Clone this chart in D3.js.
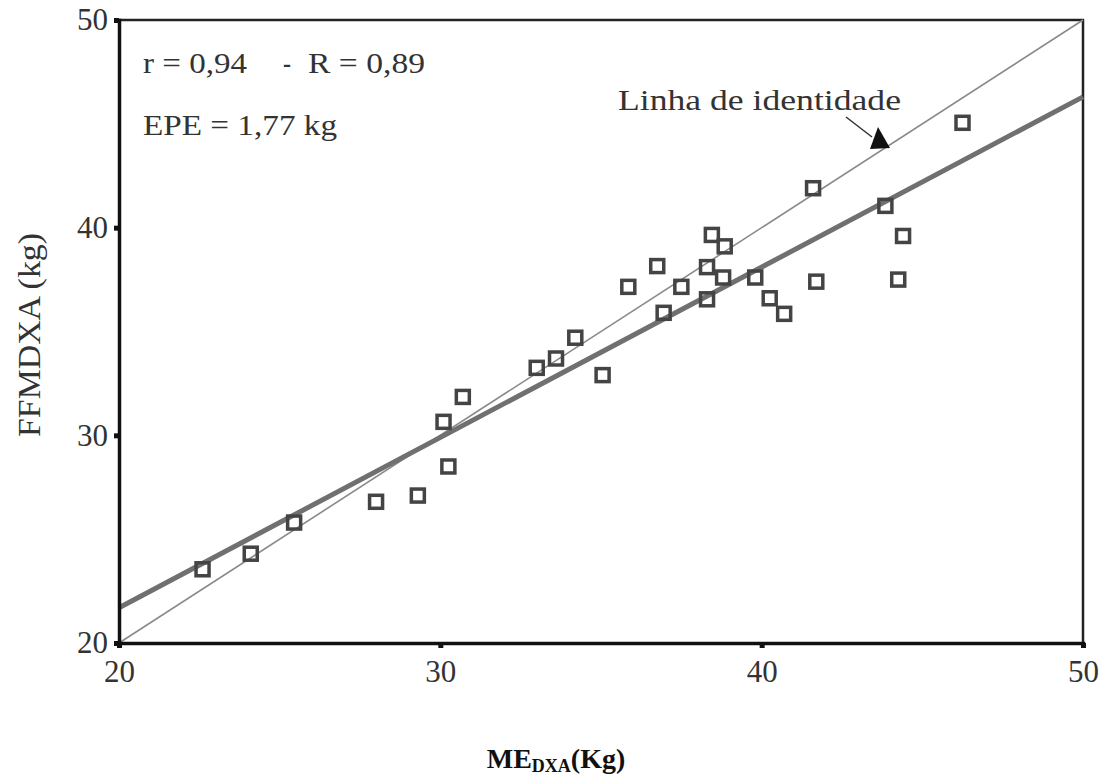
<!DOCTYPE html>
<html>
<head>
<meta charset="utf-8">
<script src="https://cdn.jsdelivr.net/npm/d3@7"></script>
<style>
  body { margin: 0; background: #fff; }
  svg { display: block; }
  .tick text { font-family: "Liberation Serif", "Times New Roman", Times, serif; fill: #333; }
</style>
</head>
<body>
<div id="chart"></div>
<script>
// data
var meDxa = [22.6, 24.1, 25.45, 28.0, 29.3, 30.25, 30.1, 30.7, 33.0, 33.6, 34.2, 35.05,
  35.85, 36.75, 36.95, 37.5, 38.3, 38.3, 38.45, 38.8, 38.85, 39.8, 40.25, 40.7,
  41.6, 41.7, 43.85, 44.25, 44.4, 46.25];
var ffmDxa = [23.55, 24.3, 25.8, 26.8, 27.1, 28.5, 30.65, 31.85, 33.25, 33.7, 34.7, 32.9,
  37.15, 38.15, 35.9, 37.15, 38.1, 36.55, 39.65, 37.6, 39.1, 37.6, 36.6, 35.85,
  41.9, 37.4, 41.05, 37.5, 39.6, 45.05];

var tickValues = [20, 30, 40, 50];
var identityX = [20, 50];
var identityY = [20, 50];
var regressionX = [20, 50];
var regressionY = [21.7, 46.3];

var width = 1111, height = 776;
var margin = {left: 119, top: 20, right: 28, bottom: 133};
var plotW = width - margin.left - margin.right;
var plotH = height - margin.top - margin.bottom;
var serif = '"Liberation Serif", "Times New Roman", Times, serif';

var svg = d3.select("#chart").append("svg")
  .attr("width", width)
  .attr("height", height);

var x = d3.scaleLinear().domain([20, 50]).range([margin.left, margin.left + plotW]);
var y = d3.scaleLinear().domain([20, 50]).range([margin.top + plotH, margin.top]);

// frame (top + right)
svg.append("path")
  .attr("d", `M${x(20)},${y(50)}H${x(50)}V${y(20)}`)
  .attr("fill", "none")
  .attr("stroke", "#222")
  .attr("stroke-width", 2.5);

// lines
var line = d3.line().x(d => x(d[0])).y(d => y(d[1]));

svg.append("path")
  .datum(identityX.map((v, i) => [v, identityY[i]]))
  .attr("d", line)
  .attr("fill", "none")
  .attr("stroke", "#8a8a8a")
  .attr("stroke-width", 1.6);

svg.append("path")
  .datum(regressionX.map((v, i) => [v, regressionY[i]]))
  .attr("d", line)
  .attr("fill", "none")
  .attr("stroke", "#707070")
  .attr("stroke-width", 5);

// points
var sq = 13;
svg.selectAll("rect.pt")
  .data(meDxa.map((v, i) => [v, ffmDxa[i]]))
  .enter()
  .append("rect")
  .attr("class", "pt")
  .attr("x", d => x(d[0]) - sq / 2)
  .attr("y", d => y(d[1]) - sq / 2)
  .attr("width", sq)
  .attr("height", sq)
  .attr("fill", "none")
  .attr("stroke", "#444")
  .attr("stroke-width", 3.5);

// axes
var xAxis = d3.axisBottom(x).tickValues(tickValues).tickSize(5).tickPadding(8).tickFormat(d3.format("d"));
var yAxis = d3.axisLeft(y).tickValues(tickValues).tickSize(5).tickPadding(6).tickFormat(d3.format("d"));

var gx = svg.append("g")
  .attr("transform", `translate(0, ${y(20)})`)
  .call(xAxis);
var gy = svg.append("g")
  .attr("transform", `translate(${x(20)}, 0)`)
  .call(yAxis);

[gx, gy].forEach(g => {
  g.attr("font-family", serif);
  g.select(".domain").attr("stroke", "#111").attr("stroke-width", 3.5);
  g.selectAll(".tick line").attr("stroke", "#111").attr("stroke-width", 5);
  g.selectAll(".tick text").attr("font-size", 31);
});
gx.selectAll(".tick text").attr("dy", "0.85em");

// y-axis title
svg.append("text")
  .attr("transform", "translate(40, 335) rotate(-90)")
  .attr("text-anchor", "middle")
  .attr("font-family", serif)
  .attr("font-size", 31)
  .attr("fill", "#333")
  .attr("textLength", 204)
  .attr("lengthAdjust", "spacingAndGlyphs")
  .text("FFMDXA (kg)");

// x-axis title with subscript
var xt = svg.append("text")
  .attr("x", 556)
  .attr("y", 768)
  .attr("text-anchor", "middle")
  .attr("font-family", serif)
  .attr("font-weight", "bold")
  .attr("font-size", 28)
  .attr("fill", "#111");
xt.append("tspan").text("ME");
xt.append("tspan").attr("font-size", 18).attr("dy", 4).text("DXA");
xt.append("tspan").attr("dy", -4).text("(Kg)");

// annotations
function note(txt, px, py, len) {
  svg.append("text")
    .attr("x", px)
    .attr("y", py)
    .attr("font-family", serif)
    .attr("font-size", 29)
    .attr("fill", "#333")
    .attr("textLength", len)
    .attr("lengthAdjust", "spacingAndGlyphs")
    .text(txt);
}
note("r = 0,94", 143, 73, 104);
note("-", 283, 73, 8);
note("R = 0,89", 308, 73, 117);
note("EPE = 1,77 kg", 143, 135, 194);
note("Linha de identidade", 618, 110, 283);

// arrow to identity line
svg.append("line")
  .attr("x1", 846).attr("y1", 117)
  .attr("x2", 872).attr("y2", 137)
  .attr("stroke", "#333")
  .attr("stroke-width", 1.5);
svg.append("path")
  .attr("d", "M870,149L878,127L890,148Z")
  .attr("fill", "#111");
</script>
</body>
</html>
